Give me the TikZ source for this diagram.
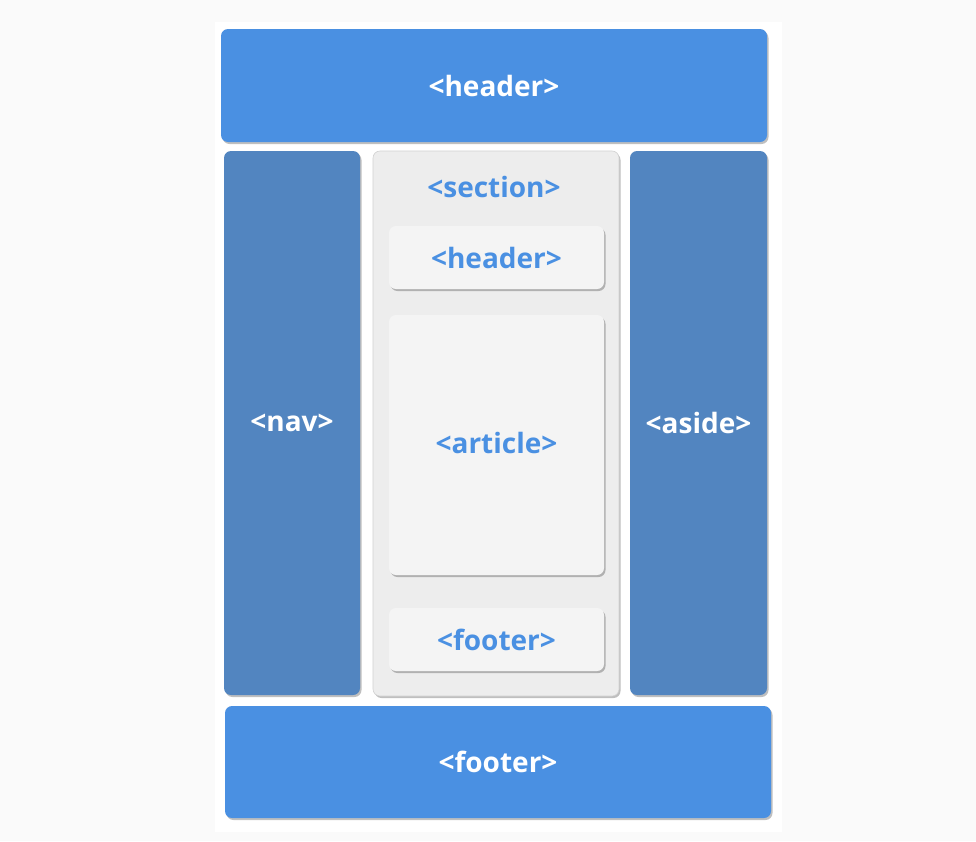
\documentclass[tikz,border=0pt]{standalone}
\usepackage{fontspec}
\setmainfont{Open Sans}
\usetikzlibrary{shadows}
\definecolor{hblue}{HTML}{4A90E2}
\definecolor{sideblue}{HTML}{5285C0}
\definecolor{secfill}{HTML}{EDEDED}
\definecolor{boxfill}{HTML}{F4F4F4}
\definecolor{pagebg}{HTML}{FAFAFA}
\tikzset{
  tagfont/.style={font=\fontsize{28}{32}\selectfont\bfseries},
  block/.style={rounded corners=7pt, inner sep=0pt, tagfont,
    drop shadow={shadow xshift=1.5pt, shadow yshift=-2pt, opacity=0.25, fill=black}},
  mainbar/.style={block, fill=hblue, text=white},
  sidebar/.style={block, fill=sideblue, text=white},
  secbox/.style={block, fill=secfill, draw=black!18, line width=0.6pt},
  innerbox/.style={block, fill=boxfill, text=hblue},
  lbl/.style={tagfont, text=hblue, inner sep=0pt}
}
\begin{document}
\begin{tikzpicture}[x=1pt, y=-1pt]
  % page
  \fill[pagebg] (0,0) rectangle (976,841);
  \fill[white] (215,22) rectangle (782,832);
  \useasboundingbox (0,0) rectangle (976,841);

  % outer layout
  \node[mainbar, minimum width=546pt, minimum height=113pt] (top) at (494,85.5) {<header>};
  \node[sidebar, minimum width=136pt, minimum height=544pt] (nav) at (292,423) {\raisebox{-2pt}{<nav>}};
  \node[secbox, minimum width=246pt, minimum height=545pt] (sec) at (496,423.5) {};
  \node[sidebar, minimum width=137pt, minimum height=544pt] (aside) at (698.5,423) {<aside>};
  \node[mainbar, minimum width=546pt, minimum height=112pt] (bottom) at (498,762) {<footer>};

  % section contents
  \node[lbl] (seclbl) at (494,187) {<section>};
  \node[innerbox, minimum width=215pt, minimum height=63pt] (sh) at (496.5,257.5) {<header>};
  \node[innerbox, minimum width=215pt, minimum height=260pt] (art) at (496.5,445) {\raisebox{5pt}{<article>}};
  \node[innerbox, minimum width=215pt, minimum height=63pt] (sf) at (496.5,639.5) {<footer>};
\end{tikzpicture}
\end{document}
